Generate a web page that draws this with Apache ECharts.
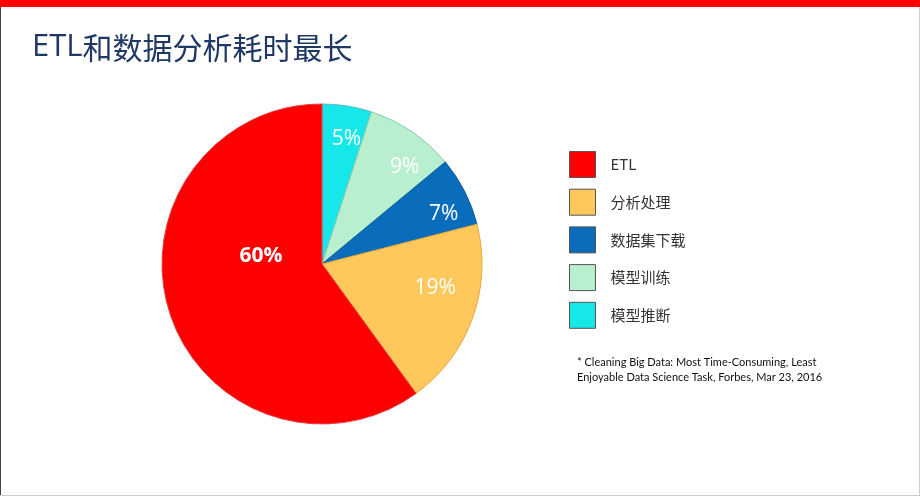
<!DOCTYPE html>
<html><head><meta charset="utf-8">
<script src="https://cdn.jsdelivr.net/npm/echarts@6/dist/echarts.min.js"></script>
<style>html,body{margin:0;padding:0;background:#fff}#c{width:920px;height:496px}</style>
</head><body><div id="c"></div>
<script>
const titleLatin = 'ETL';
const titleCJK = '和数据分析耗时最长';
const legendOrder = ['ETL', '分析处理', '数据集下载', '模型训练', '模型推断'];
const sliceNames = ['模型推断', '模型训练', '数据集下载', '分析处理', 'ETL'];
const sliceValues = [5, 9, 7, 19, 60];
const sliceColors = ['#16E7E8', '#B8F0CF', '#0A6DBC', '#FFC85C', '#FF0000'];
const sliceBorders = ['#5BB8C8', '#8FC9B0', '#0A5A9C', '#E8A93C', '#E04040'];
// small style nudges of the percent labels (pixels), as in the original slide
const labelNudges = [[4, 4], [9, 11], [5, 9], [-10, -20], [18, -34]];
const footnote = ['* Cleaning Big Data: Most Time-Consuming, Least', 'Enjoyable Data Science Task, Forbes, Mar 23, 2016'];

const chart = echarts.init(document.getElementById('c'));
const mainData = sliceNames.map((n, i) => ({
  name: n, value: sliceValues[i],
  itemStyle: { color: sliceColors[i], borderColor: sliceBorders[i], borderWidth: 1 },
  label: { show: n === 'ETL', fontWeight: 'bold' }
}));
const labelData = sliceNames.map((n, i) => ({
  name: n, value: sliceValues[i],
  itemStyle: { color: 'rgba(0,0,0,0)' },
  label: { show: n !== 'ETL' }
}));
const labelStyle = {
  position: 'inside', color: '#fff', fontSize: 21, fontWeight: 'normal',
  fontFamily: 'Open Sans, Noto Sans, sans-serif',
  formatter: p => p.value + '%'
};
const nudge = p => ({ dx: labelNudges[p.dataIndex][0], dy: labelNudges[p.dataIndex][1] });
chart.setOption({
  animation: false,
  backgroundColor: '#fff',
  title: [
    { text: '{a|' + titleLatin + '}{b|' + titleCJK + '}', left: 27, top: 27,
      textStyle: { rich: {
        a: { fontSize: 31, fontWeight: 'normal', color: '#1F3864', fontFamily: 'Open Sans, Noto Sans, sans-serif' },
        b: { fontSize: 30, fontWeight: 'normal', color: '#1F3864', fontFamily: 'Noto Sans CJK SC, sans-serif' }
      } } },
    { text: footnote.join('\n'), left: 572, top: 350,
      textStyle: { fontSize: 11, fontWeight: 'normal', color: '#111', lineHeight: 15, fontFamily: 'Lato, Open Sans, sans-serif' } }
  ],
  legend: {
    data: legendOrder, orient: 'vertical', left: 569, top: 151, padding: 0,
    icon: 'rect', itemWidth: 26, itemHeight: 26, itemGap: 10.7,
    itemStyle: { borderColor: '#555', borderWidth: 1 },
    textStyle: { fontSize: 15, color: '#333', padding: [0, 0, 0, 10], fontFamily: 'Noto Sans CJK SC, Noto Sans, sans-serif' },
    selectedMode: false
  },
  graphic: [
    { type: 'rect', shape: { x: 0, y: 0, width: 920, height: 7 }, style: { fill: '#FF0000' } },
    { type: 'rect', shape: { x: 0, y: 7, width: 920, height: 2 }, style: { fill: '#F3F6F6' } },
    { type: 'rect', shape: { x: 0, y: 7, width: 1, height: 489 }, style: { fill: '#444' } },
    { type: 'rect', shape: { x: 919, y: 7, width: 1, height: 489 }, style: { fill: '#ccc' } },
    { type: 'rect', shape: { x: 0, y: 495, width: 920, height: 1 }, style: { fill: '#ccc' } }
  ],
  series: [
    { type: 'pie', center: [322, 264], radius: [0, 160], startAngle: 90, clockwise: true,
      data: mainData, label: labelStyle, labelLine: { show: false }, silent: true,
      labelLayout: nudge },
    { type: 'pie', center: [322, 264], radius: [96, 160], startAngle: 90, clockwise: true,
      data: labelData, label: labelStyle, labelLine: { show: false }, silent: true, legendHoverLink: false,
      labelLayout: nudge }
  ]
});
</script></body></html>
